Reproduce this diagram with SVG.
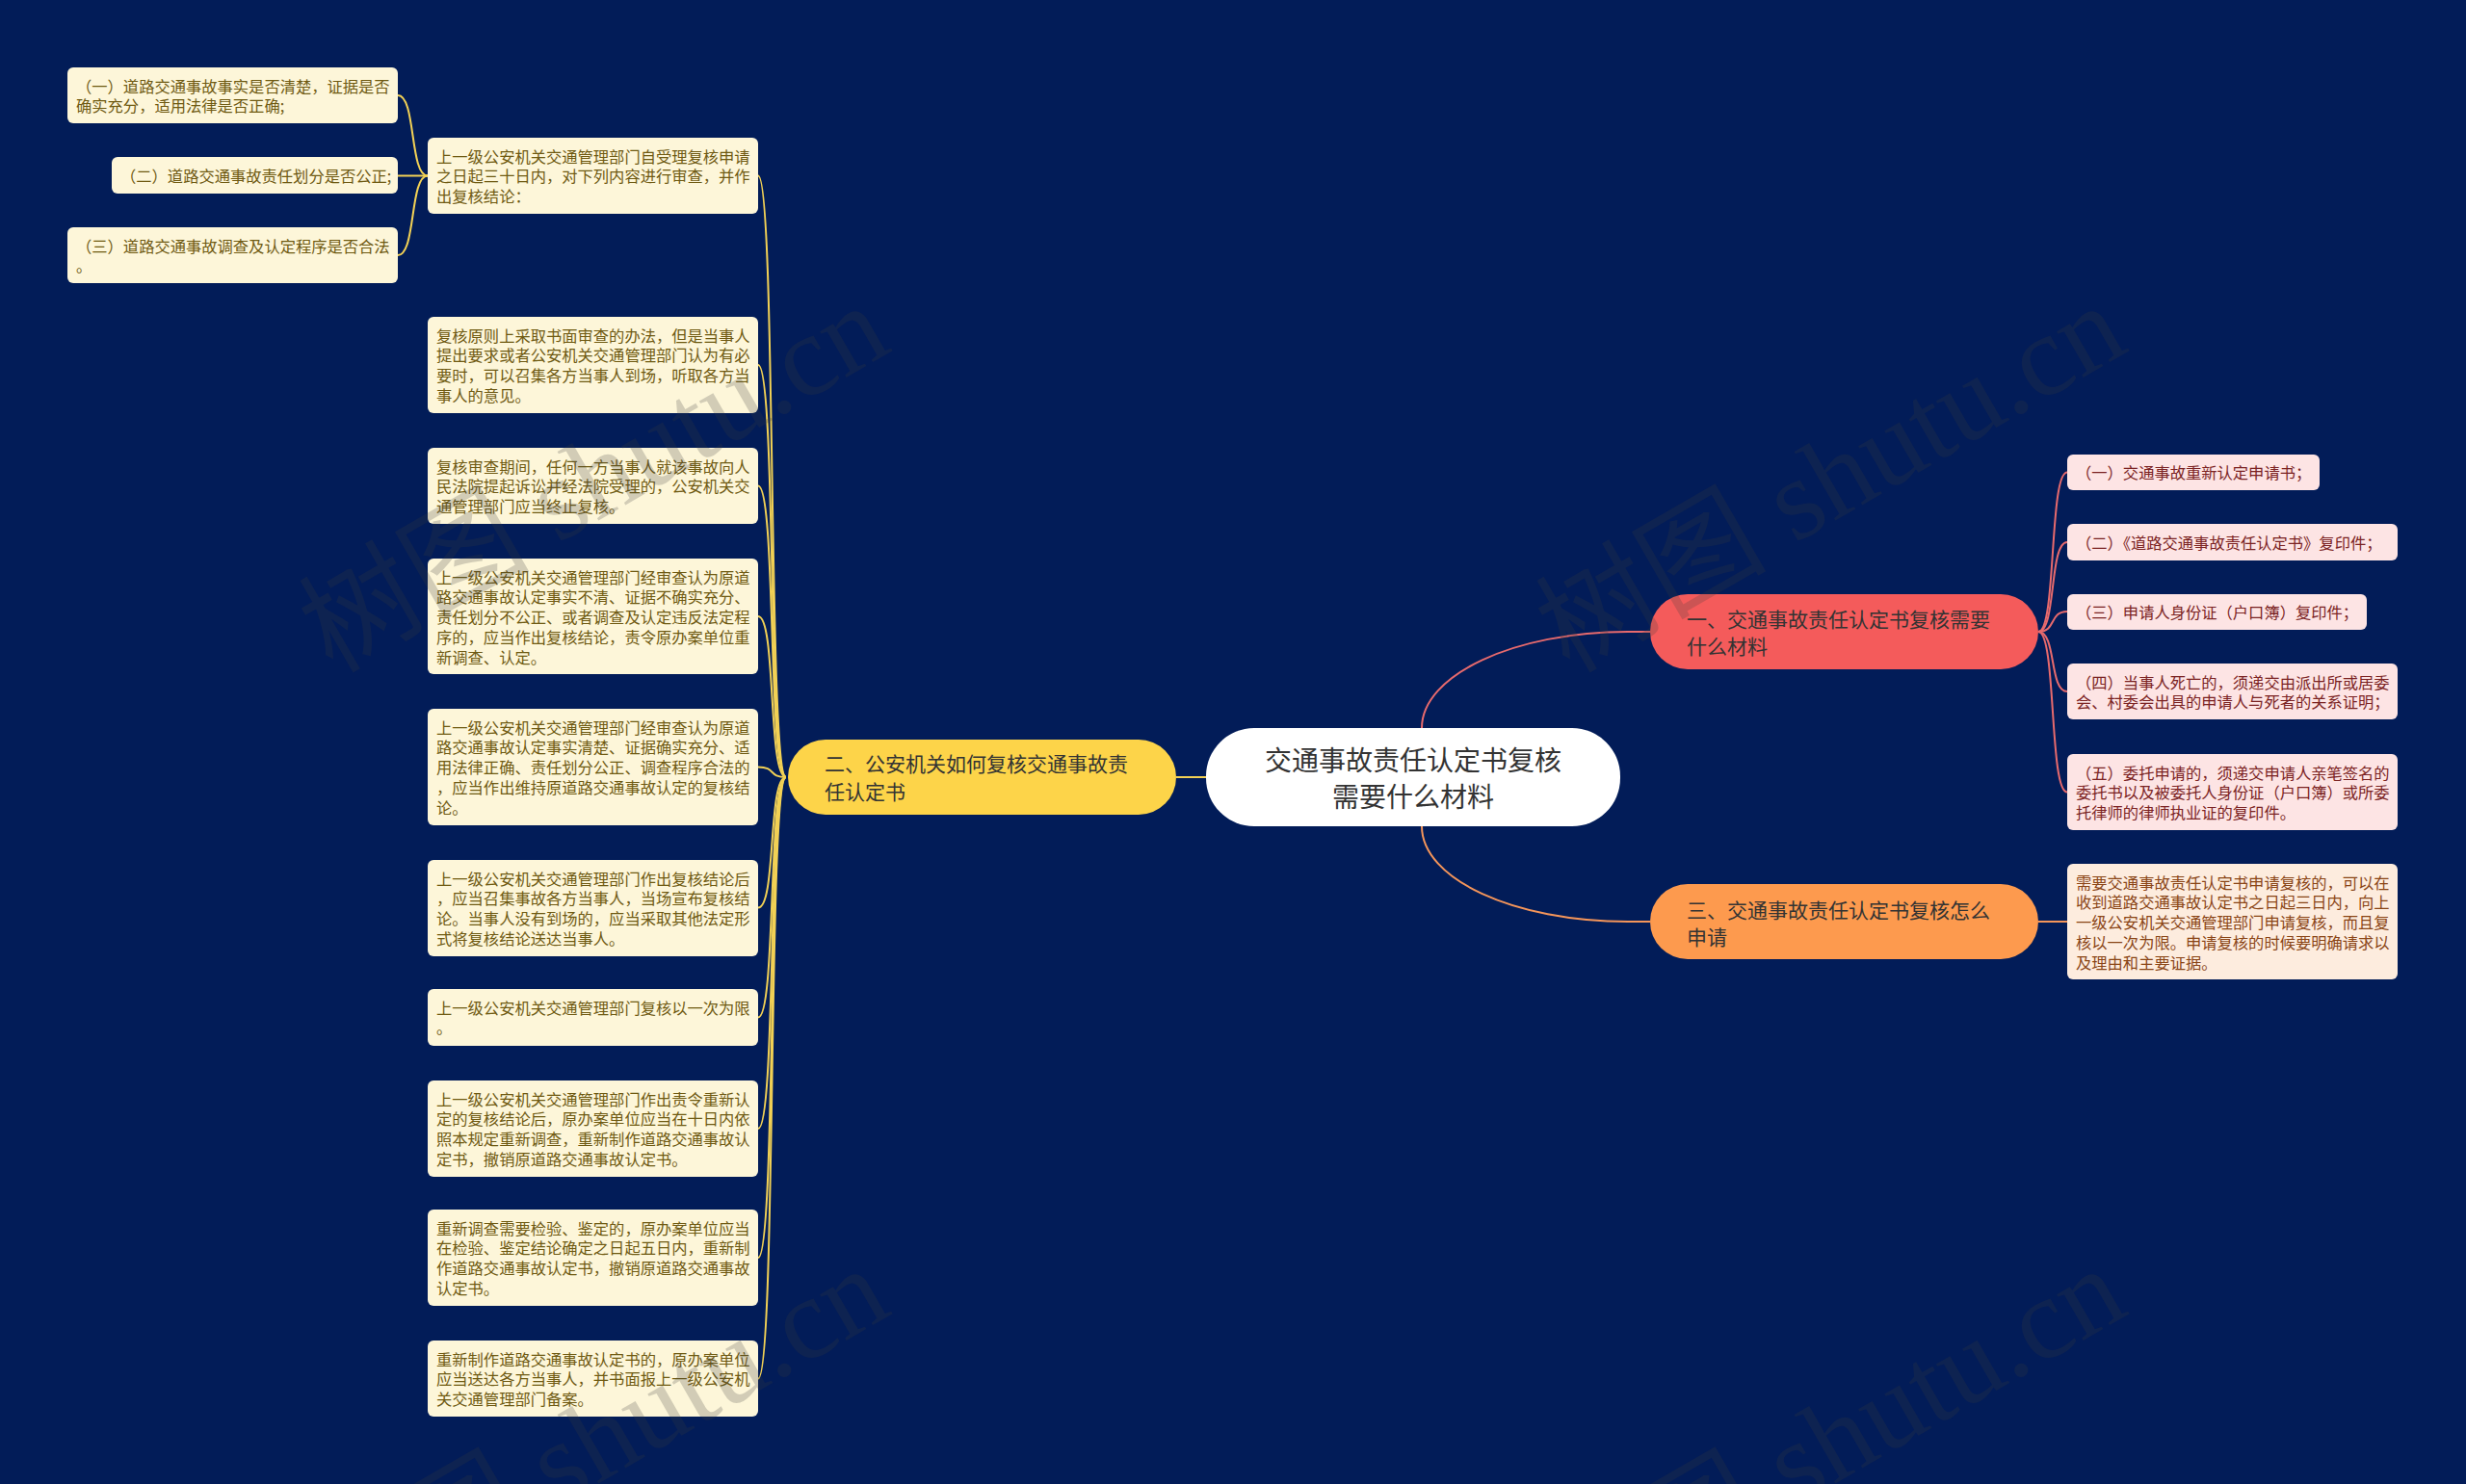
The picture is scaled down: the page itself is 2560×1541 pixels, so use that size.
<svg xmlns="http://www.w3.org/2000/svg" width="2560" height="1541" viewBox="0 0 2560 1541">
<style>
.t{font-family:"Noto Sans CJK SC","Noto Sans",sans-serif}
.leafY rect{fill:#fdf6d9}
.leafY text{font-size:16.3px;fill:#6f5a12}
.leafR rect{fill:#fde4e4}
.leafR text{font-size:16.3px;fill:#7b2323}
.leafO rect{fill:#fdecde}
.leafO text{font-size:16.3px;fill:#8a4516}
.br text{font-size:21px;fill:#333}
.cY{fill:none;stroke:#f2d155;stroke-width:2}
.cR{fill:none;stroke:#e76a6d;stroke-width:2}
.cO{fill:none;stroke:#f4955a;stroke-width:2}
.wm{font-family:"Liberation Serif","Noto Sans CJK SC",serif;font-size:120px;fill:#3c3c3c;opacity:0.22}
</style>
<rect x="0" y="0" width="2560" height="1541" fill="#021c58"/>

<g id="connectors">
  <path class="cR" d="M1476,756 C1476,701 1572,656 1690,656 L1713,656" stroke-width="2.5"/>
  <path class="cO" d="M1476,858 C1476,913 1572,957 1690,957 L1713,957" stroke-width="2.5"/>
  <path class="cY" d="M1221,807 L1252,807" stroke-width="3"/>
  <path class="cY" d="M816,807 C797,807 806,182.5 787,182.5"/>
  <path class="cY" d="M816,807 C797,807 806,379 787,379"/>
  <path class="cY" d="M816,807 C797,807 806,504.5 787,504.5"/>
  <path class="cY" d="M816,807 C797,807 806,640 787,640"/>
  <path class="cY" d="M816,807 C797,807 806,796.5 787,796.5"/>
  <path class="cY" d="M816,807 C797,807 806,942.5 787,942.5"/>
  <path class="cY" d="M816,807 C797,807 806,1056.5 787,1056.5"/>
  <path class="cY" d="M816,807 C797,807 806,1172 787,1172"/>
  <path class="cY" d="M816,807 C797,807 806,1306 787,1306"/>
  <path class="cY" d="M816,807 C797,807 806,1431.5 787,1431.5"/>
  <path class="cY" d="M444,182.5 C425,182.5 432,99 413,99"/>
  <path class="cY" d="M444,182.5 L413,182.5"/>
  <path class="cY" d="M444,182.5 C425,182.5 432,265 413,265"/>
  <path class="cR" d="M2116,656 C2135,656 2127,490.5 2146,490.5"/>
  <path class="cR" d="M2116,656 C2135,656 2127,563 2146,563"/>
  <path class="cR" d="M2116,656 C2135,656 2127,635 2146,635"/>
  <path class="cR" d="M2116,656 C2135,656 2127,718 2146,718"/>
  <path class="cR" d="M2116,656 C2135,656 2127,822.5 2146,822.5"/>
  <path class="cO" d="M2116,957 L2146,957"/>
</g>

<g id="root" class="t">
  <rect x="1252" y="756" width="430" height="102" rx="50" fill="#ffffff"/>
  <text x="1467" y="800" font-size="28" fill="#333" text-anchor="middle">交通事故责任认定书复核</text>
  <text x="1467" y="838" font-size="28" fill="#333" text-anchor="middle">需要什么材料</text>
</g>

<g id="branch1" class="t br">
  <rect x="1713" y="617" width="403" height="78" rx="39" fill="#f45b5b"/>
  <text x="1751" y="651">一、交通事故责任认定书复核需要</text>
  <text x="1751" y="679">什么材料</text>
</g>
<g id="branch2" class="t br">
  <rect x="818" y="768" width="403" height="78" rx="39" fill="#fdd449"/>
  <text x="856" y="801">二、公安机关如何复核交通事故责</text>
  <text x="856" y="830">任认定书</text>
</g>
<g id="branch3" class="t br">
  <rect x="1713" y="918" width="403" height="78" rx="39" fill="#fd9a4e"/>
  <text x="1751" y="953">三、交通事故责任认定书复核怎么</text>
  <text x="1751" y="981">申请</text>
</g>

<g id="tl1" class="t leafY">
  <rect x="70" y="70" width="343" height="58" rx="6"/>
  <text x="79" y="95.5">（一）道路交通事故事实是否清楚，证据是否</text>
  <text x="79" y="116.3">确实充分，适用法律是否正确;</text>
</g>
<g id="tl2" class="t leafY">
  <rect x="116" y="163" width="297" height="38" rx="6"/>
  <text x="125" y="188.5">（二）道路交通事故责任划分是否公正;</text>
</g>
<g id="tl3" class="t leafY">
  <rect x="70" y="236" width="343" height="58" rx="6"/>
  <text x="79" y="261.5">（三）道路交通事故调查及认定程序是否合法</text>
  <text x="79" y="282.3">。</text>
</g>

<g id="l1" class="t leafY">
  <rect x="444" y="143" width="343" height="79" rx="6"/>
  <text x="453" y="168.5">上一级公安机关交通管理部门自受理复核申请</text>
  <text x="453" y="189.3">之日起三十日内，对下列内容进行审查，并作</text>
  <text x="453" y="210.1">出复核结论：</text>
</g>
<g id="l2" class="t leafY">
  <rect x="444" y="329" width="343" height="100" rx="6"/>
  <text x="453" y="354.5">复核原则上采取书面审查的办法，但是当事人</text>
  <text x="453" y="375.3">提出要求或者公安机关交通管理部门认为有必</text>
  <text x="453" y="396.1">要时，可以召集各方当事人到场，听取各方当</text>
  <text x="453" y="416.9">事人的意见。</text>
</g>
<g id="l3" class="t leafY">
  <rect x="444" y="465" width="343" height="79" rx="6"/>
  <text x="453" y="490.5">复核审查期间，任何一方当事人就该事故向人</text>
  <text x="453" y="511.3">民法院提起诉讼并经法院受理的，公安机关交</text>
  <text x="453" y="532.1">通管理部门应当终止复核。</text>
</g>
<g id="l4" class="t leafY">
  <rect x="444" y="580" width="343" height="120" rx="6"/>
  <text x="453" y="605.5">上一级公安机关交通管理部门经审查认为原道</text>
  <text x="453" y="626.3">路交通事故认定事实不清、证据不确实充分、</text>
  <text x="453" y="647.1">责任划分不公正、或者调查及认定违反法定程</text>
  <text x="453" y="667.9">序的，应当作出复核结论，责令原办案单位重</text>
  <text x="453" y="688.7">新调查、认定。</text>
</g>
<g id="l5" class="t leafY">
  <rect x="444" y="736" width="343" height="121" rx="6"/>
  <text x="453" y="761.5">上一级公安机关交通管理部门经审查认为原道</text>
  <text x="453" y="782.3">路交通事故认定事实清楚、证据确实充分、适</text>
  <text x="453" y="803.1">用法律正确、责任划分公正、调查程序合法的</text>
  <text x="453" y="823.9">，应当作出维持原道路交通事故认定的复核结</text>
  <text x="453" y="844.7">论。</text>
</g>
<g id="l6" class="t leafY">
  <rect x="444" y="893" width="343" height="100" rx="6"/>
  <text x="453" y="918.5">上一级公安机关交通管理部门作出复核结论后</text>
  <text x="453" y="939.3">，应当召集事故各方当事人，当场宣布复核结</text>
  <text x="453" y="960.1">论。当事人没有到场的，应当采取其他法定形</text>
  <text x="453" y="980.9">式将复核结论送达当事人。</text>
</g>
<g id="l7" class="t leafY">
  <rect x="444" y="1027" width="343" height="59" rx="6"/>
  <text x="453" y="1052.5">上一级公安机关交通管理部门复核以一次为限</text>
  <text x="453" y="1073.3">。</text>
</g>
<g id="l8" class="t leafY">
  <rect x="444" y="1122" width="343" height="100" rx="6"/>
  <text x="453" y="1147.5">上一级公安机关交通管理部门作出责令重新认</text>
  <text x="453" y="1168.3">定的复核结论后，原办案单位应当在十日内依</text>
  <text x="453" y="1189.1">照本规定重新调查，重新制作道路交通事故认</text>
  <text x="453" y="1209.9">定书，撤销原道路交通事故认定书。</text>
</g>
<g id="l9" class="t leafY">
  <rect x="444" y="1256" width="343" height="100" rx="6"/>
  <text x="453" y="1281.5">重新调查需要检验、鉴定的，原办案单位应当</text>
  <text x="453" y="1302.3">在检验、鉴定结论确定之日起五日内，重新制</text>
  <text x="453" y="1323.1">作道路交通事故认定书，撤销原道路交通事故</text>
  <text x="453" y="1343.9">认定书。</text>
</g>
<g id="l10" class="t leafY">
  <rect x="444" y="1392" width="343" height="79" rx="6"/>
  <text x="453" y="1417.5">重新制作道路交通事故认定书的，原办案单位</text>
  <text x="453" y="1438.3">应当送达各方当事人，并书面报上一级公安机</text>
  <text x="453" y="1459.1">关交通管理部门备案。</text>
</g>

<g id="r1" class="t leafR">
  <rect x="2146" y="472" width="262" height="37" rx="6"/>
  <text x="2155" y="497">（一）交通事故重新认定申请书；</text>
</g>
<g id="r2" class="t leafR">
  <rect x="2146" y="544" width="343" height="38" rx="6"/>
  <text x="2155" y="569.5">（二）《道路交通事故责任认定书》复印件；</text>
</g>
<g id="r3" class="t leafR">
  <rect x="2146" y="617" width="311" height="37" rx="6"/>
  <text x="2155" y="642">（三）申请人身份证（户口簿）复印件；</text>
</g>
<g id="r4" class="t leafR">
  <rect x="2146" y="689" width="343" height="58" rx="6"/>
  <text x="2155" y="714.5">（四）当事人死亡的，须递交由派出所或居委</text>
  <text x="2155" y="735.3">会、村委会出具的申请人与死者的关系证明；</text>
</g>
<g id="r5" class="t leafR">
  <rect x="2146" y="783" width="343" height="79" rx="6"/>
  <text x="2155" y="808.5">（五）委托申请的，须递交申请人亲笔签名的</text>
  <text x="2155" y="829.3">委托书以及被委托人身份证（户口簿）或所委</text>
  <text x="2155" y="850.1">托律师的律师执业证的复印件。</text>
</g>
<g id="r6" class="t leafO">
  <rect x="2146" y="897" width="343" height="120" rx="6"/>
  <text x="2155" y="922.5">需要交通事故责任认定书申请复核的，可以在</text>
  <text x="2155" y="943.3">收到道路交通事故认定书之日起三日内，向上</text>
  <text x="2155" y="964.1">一级公安机关交通管理部门申请复核，而且复</text>
  <text x="2155" y="984.9">核以一次为限。申请复核的时候要明确请求以</text>
  <text x="2155" y="1005.7">及理由和主要证据。</text>
</g>

<g id="watermark">
  <text class="wm" x="345" y="700" transform="rotate(-30 345 700)">树图 shutu.cn</text>
  <text class="wm" x="1629" y="700" transform="rotate(-30 1629 700)">树图 shutu.cn</text>
  <text class="wm" x="345" y="1700" transform="rotate(-30 345 1700)">树图 shutu.cn</text>
  <text class="wm" x="1629" y="1700" transform="rotate(-30 1629 1700)">树图 shutu.cn</text>
</g>
</svg>
